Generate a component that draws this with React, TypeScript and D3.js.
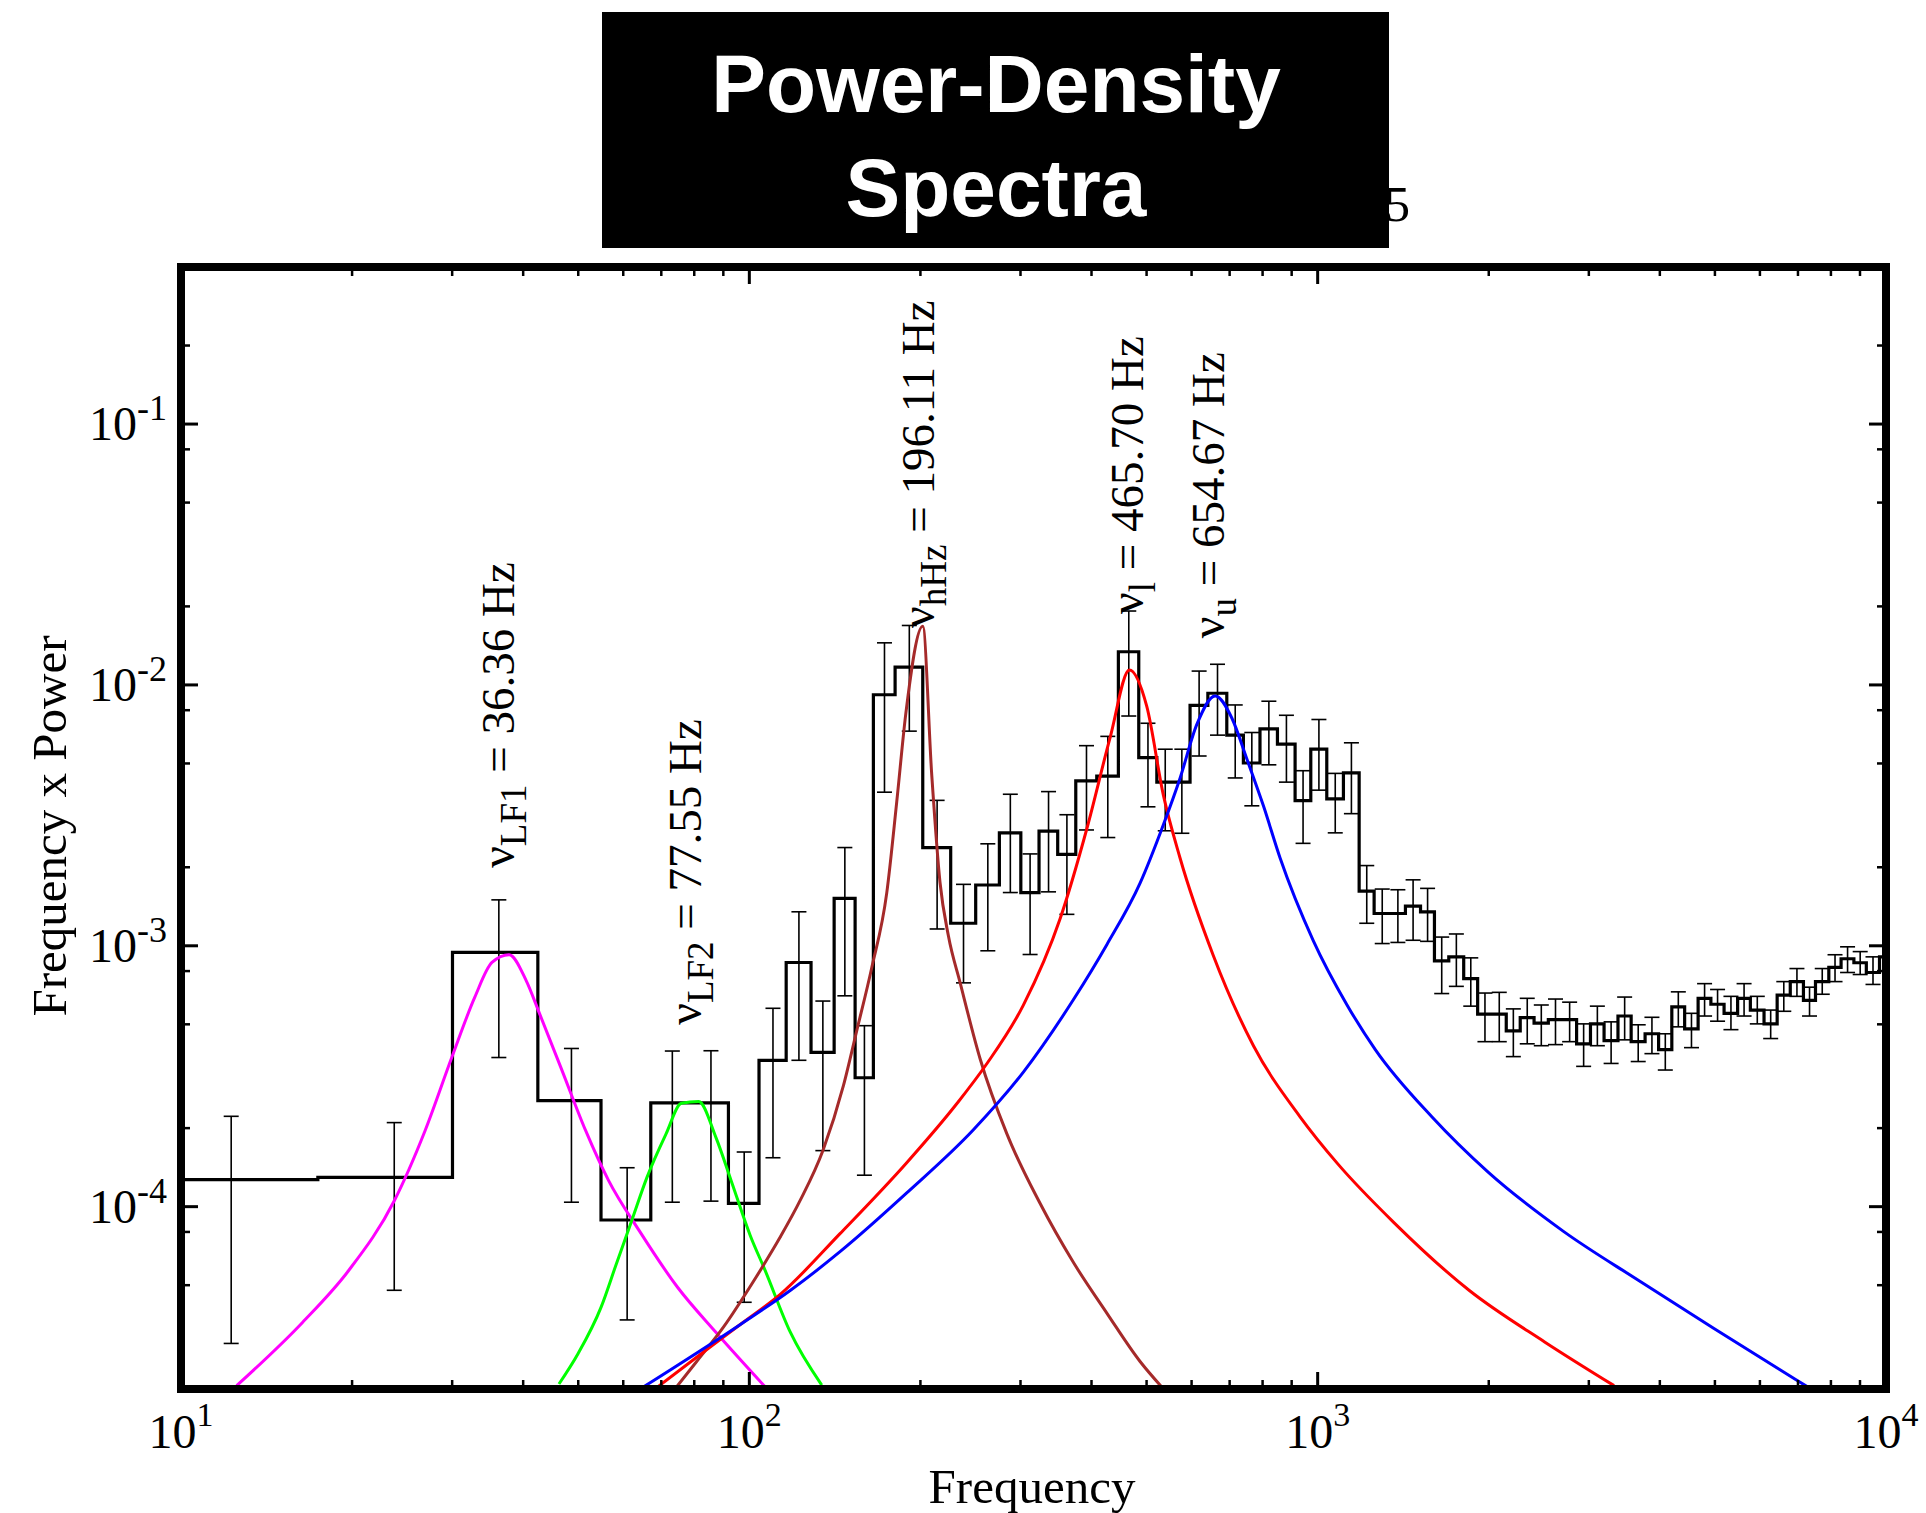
import React from 'react'
import { select, scaleLog, line, curveStepAfter, curveMonotoneX } from 'd3'

// histogram bins (Hz edges) and frequency x power per bin
const binEdges = [7.1, 17.41, 30.04, 42.45, 54.83, 67.08, 79.32, 91.88, 104.0, 116.1, 128.4, 141.0, 153.5, 165.3,
    180.5, 201.9, 226.1, 250.2, 275.4, 300.4, 323.4, 348.8, 375.3, 408.6, 446.0, 484.4, 521.2, 557.3, 596.3, 640.9,
    692.0, 740.1, 791.6, 849.6, 912.6, 972.5, 1037.6, 1110, 1183, 1257, 1341, 1427, 1517, 1605, 1701, 1807, 1912,
    2027, 2147, 2272, 2403, 2546, 2696, 2855, 3020, 3191, 3376, 3561, 3768, 3980, 4199, 4423, 4671, 4919, 5189,
    5482, 5772, 6101, 6434, 6785, 7157, 7515, 7932, 8336, 8780, 9234, 9740, 10250]

const binPower = [1.27e-4, 1.295e-4, 9.43e-4, 2.55e-4, 8.89e-5, 2.50e-4, 2.50e-4, 1.03e-4, 3.64e-4, 8.63e-4,
    3.90e-4, 1.52e-3, 3.12e-4, 9.17e-3, 1.17e-2, 2.38e-3, 1.22e-3, 1.71e-3, 2.71e-3, 1.60e-3, 2.75e-3, 2.24e-3,
    4.29e-3, 4.47e-3, 1.34e-2, 5.26e-3, 4.24e-3, 4.24e-3, 8.35e-3, 9.29e-3, 6.42e-3, 5.02e-3, 6.78e-3, 5.93e-3,
    3.60e-3, 5.67e-3, 3.66e-3, 4.60e-3, 1.62e-3, 1.33e-3, 1.33e-3, 1.42e-3, 1.35e-3, 8.76e-4, 9.07e-4, 7.49e-4,
    5.47e-4, 5.47e-4, 4.72e-4, 5.30e-4, 5.05e-4, 5.21e-4, 5.21e-4, 4.21e-4, 5.02e-4, 4.33e-4, 5.38e-4, 4.29e-4,
    4.60e-4, 4.00e-4, 5.83e-4, 4.80e-4, 6.29e-4, 5.97e-4, 5.51e-4, 6.29e-4, 5.67e-4, 5.02e-4, 6.47e-4, 7.29e-4,
    6.18e-4, 7.29e-4, 8.26e-4, 8.92e-4, 8.61e-4, 7.90e-4, 9.07e-4]

const errUpper = [2.22e-4, 2.10e-4, 1.50e-3, 4.04e-4, 1.41e-4, 3.95e-4, 3.96e-4, 1.62e-4, 5.76e-4, 1.35e-3,
    6.14e-4, 2.38e-3, 4.94e-4, 1.45e-2, 1.69e-2, 3.61e-3, 1.72e-3, 2.46e-3, 3.81e-3, 2.25e-3, 3.90e-3, 3.18e-3,
    5.85e-3, 6.35e-3, 1.92e-2, 7.13e-3, 5.67e-3, 5.67e-3, 1.13e-2, 1.20e-2, 8.38e-3, 6.57e-3, 8.66e-3, 7.65e-3,
    4.69e-3, 7.37e-3, 4.58e-3, 6.00e-3, 2.03e-3, 1.65e-3, 1.64e-3, 1.79e-3, 1.66e-3, 1.08e-3, 1.11e-3, 8.99e-4,
    6.59e-4, 6.63e-4, 5.73e-4, 6.29e-4, 5.93e-4, 6.25e-4, 6.08e-4, 5.02e-4, 5.87e-4, 5.11e-4, 6.36e-4, 4.98e-4,
    5.32e-4, 4.60e-4, 6.66e-4, 5.51e-4, 7.16e-4, 6.80e-4, 6.40e-4, 7.16e-4, 6.40e-4, 5.67e-4, 7.29e-4, 8.18e-4,
    6.94e-4, 8.18e-4, 9.24e-4, 9.91e-4, 9.50e-4, 9.07e-4, 1.00e-3]

const errLower = [2.99e-5, 4.78e-5, 3.73e-4, 1.04e-4, 3.68e-5, 1.04e-4, 1.05e-4, 4.30e-5, 1.54e-4, 3.64e-4,
    1.64e-4, 6.43e-4, 1.32e-4, 3.88e-3, 6.65e-3, 1.16e-3, 7.21e-4, 9.57e-4, 1.60e-3, 9.26e-4, 1.61e-3, 1.32e-3,
    2.78e-3, 2.60e-3, 7.60e-3, 3.41e-3, 2.76e-3, 2.70e-3, 5.34e-3, 6.42e-3, 4.40e-3, 3.44e-3, 4.94e-3, 4.24e-3,
    2.47e-3, 3.95e-3, 2.71e-3, 3.21e-3, 1.22e-3, 1.02e-3, 1.03e-3, 1.05e-3, 1.04e-3, 6.56e-4, 6.99e-4, 5.87e-4,
    4.29e-4, 4.29e-4, 3.76e-4, 4.21e-4, 4.14e-4, 4.18e-4, 4.29e-4, 3.45e-4, 4.14e-4, 3.54e-4, 4.36e-4, 3.60e-4,
    3.86e-4, 3.34e-4, 4.89e-4, 4.07e-4, 5.38e-4, 5.14e-4, 4.77e-4, 5.38e-4, 5.02e-4, 4.41e-4, 5.61e-4, 6.40e-4,
    5.38e-4, 6.52e-4, 7.29e-4, 7.90e-4, 7.76e-4, 7.11e-4, 8.02e-4]

// lorentzian model curves, [frequency, frequency x power]
const lf1Curve = [[12.53, 2.06e-5], [16.36, 3.60e-5], [19.71, 5.68e-5], [23.73, 1.054e-4], [26.88, 1.955e-4],
    [29.95, 3.73e-4], [32.87, 6.34e-4], [35.25, 8.63e-4], [37.78, 9.24e-4], [40.51, 7.34e-4], [42.78, 5.47e-4],
    [46.59, 3.42e-4], [51.53, 1.955e-4], [56.55, 1.258e-4], [64.01, 8.09e-5], [74.76, 4.91e-5], [87.33, 3.30e-5],
    [106.8, 2.03e-5]]

const lf2Curve = [[46.24, 2.09e-5], [49.95, 2.73e-5], [54.83, 4.11e-5], [58.34, 6.03e-5], [62.09, 8.84e-5],
    [66.05, 1.295e-4], [71.36, 1.90e-4], [75.93, 2.49e-4], [81.44, 2.53e-4], [87.33, 1.843e-4], [92.90, 1.258e-4],
    [100.4, 7.74e-5], [106.6, 5.70e-5], [118.0, 3.31e-5], [134.1, 2.07e-5]]

const hHzCurve = [[72.81, 1.915e-5], [80.78, 2.55e-5], [90.03, 3.45e-5], [101.9, 5.21e-5], [113.2, 7.61e-5],
    [122.8, 1.054e-4], [134.9, 1.654e-4], [146.4, 2.91e-4], [154.5, 4.72e-4], [164.2, 8.24e-4], [174.5, 1.596e-3],
    [181.7, 3.56e-3], [188.5, 7.76e-3], [201.9, 1.679e-2], [209.4, 4.51e-3], [216.5, 1.752e-3], [224.0, 1.092e-3],
    [234.9, 7.22e-4], [254.7, 3.69e-4], [283.8, 1.905e-4], [324.7, 1.03e-4], [371.6, 6.12e-5], [425.6, 3.91e-5],
    [487, 2.55e-5], [531.2, 2.04e-5]]

const lowerCurve = [[66.56, 1.92e-5], [84.63, 2.86e-5], [97.32, 3.59e-5], [113.2, 4.60e-5], [144.4, 7.88e-5],
    [189.2, 1.474e-4], [231.7, 2.48e-4], [261.7, 3.53e-4], [303.5, 5.92e-4], [352.2, 1.269e-3], [392.5, 2.81e-3],
    [431.3, 6.28e-3], [466.4, 1.141e-2], [500.4, 8.27e-3], [535.2, 3.78e-3], [572.6, 2.17e-3], [655.4, 9.16e-4],
    [770.9, 4.14e-4], [931.1, 2.21e-4], [1084, 1.462e-4], [1362, 8.69e-5], [1849, 4.77e-5], [2508, 3.03e-5],
    [3323, 2.06e-5]]

const upperCurve = [[62.36, 1.92e-5], [96.3, 3.53e-5], [118.0, 4.77e-5], [144.4, 6.72e-5], [189.2, 1.129e-4],
    [247.9, 1.972e-4], [303.5, 3.28e-4], [371.6, 6.21e-4], [425.6, 1.01e-3], [487, 1.738e-3], [535.2, 2.91e-3],
    [572.6, 4.39e-3], [612.7, 7.04e-3], [660, 9.07e-3], [706.2, 7.47e-3], [750.4, 5.21e-3], [802.7, 3.44e-3],
    [858.8, 2.17e-3], [982.7, 1.045e-3], [1125, 5.96e-4], [1263, 4.0e-4], [1588, 2.21e-4], [1995, 1.356e-4],
    [2707, 8.04e-5], [3672, 5.21e-5], [4981, 3.41e-5], [6945, 2.17e-5], [7410, 1.99e-5]]

const peakNames = ['LF1', 'LF2', 'hHz', 'l', 'u']
const peakValues = ['36.36', '77.55', '196.11', '465.70', '654.67']

const xMajorTicks = [10, 100, 1000, 10000]
const xTickExponents = ['1', '2', '3', '4']
const yMajorTicks = [1e-4, 1e-3, 1e-2, 1e-1]
const yTickExponents = ['-4', '-3', '-2', '-1']
const yMinorTicks = [5e-5, 8e-5, 2e-4, 5e-4, 8e-4, 2e-3, 5e-3, 8e-3, 2e-2, 5e-2, 8e-2, 2e-1]

const serif = "'Liberation Serif', 'Times New Roman', Times, serif"
const sans = "'Liberation Sans', Arial, Helvetica, sans-serif"

class PowerSpectrum extends React.Component {
    container: SVGSVGElement | null = null

    componentDidMount() {
        this.createChart()
    }
    componentDidUpdate() {
        this.createChart()
    }
    createChart = () => {
        let config = {
            width: 1926,
            height: 1513,
            frame: 8,
            majorTick: 17,
            minorTick: 9,
            capwidth: 15,
            margins: { l: 181, r: 1886, t: 267, b: 1389 },
            // label anchors in data space: [frequency, power]
            labelpos: [[38.5, 1.99e-3], [82.2, 4.98e-4], [211.4, 1.654e-2], [493, 1.87e-2], [684, 1.51e-2]]
        }
        let colors = {
            hist: '#000000',
            lf1: '#ff00ff',
            lf2: '#00ff00',
            hHz: '#a52a2a',
            lower: '#ff0000',
            upper: '#0000ff'
        }
        let m = config.margins

        let svg = select(this.container)
            .attr('width', config.width).attr('height', config.height)

        let xScale = scaleLog().domain([10, 10000]).range([m.l, m.r])
        let yScale = scaleLog().domain([2e-5, 0.4]).range([m.b, m.t])

        svg.selectAll('.bg').data([0]).join('rect').attr('class', 'bg')
            .attr('width', config.width).attr('height', config.height).attr('fill', '#ffffff')

        // title remnant behind the box
        svg.selectAll('.hidden-title').data([0]).join('text').attr('class', 'hidden-title')
            .attr('x', 1385).attr('y', 221)
            .style('font-family', serif).style('font-size', '50px')
            .text('5')

        svg.selectAll('.title-box').data([0]).join('rect').attr('class', 'title-box')
            .attr('x', 602).attr('y', 12).attr('width', 787).attr('height', 236).attr('fill', '#000000')

        svg.selectAll('.title').data(['Power-Density', 'Spectra']).join('text').attr('class', 'title')
            .attr('x', 996).attr('y', (d, i) => i === 0 ? 112 : 216)
            .attr('text-anchor', 'middle')
            .attr('fill', '#ffffff')
            .style('font-family', sans).style('font-size', '82px').style('font-weight', 'bold')
            .text(d => d)

        let defs = svg.selectAll('defs').data([0]).join('defs')
        defs.selectAll('clipPath').data([0]).join('clipPath').attr('id', 'plot-clip')
            .selectAll('rect').data([0]).join('rect')
            .attr('x', m.l).attr('y', m.t).attr('width', m.r - m.l).attr('height', m.b - m.t)

        let g = svg.selectAll('.plot-g').data([0]).join('g')
            .attr('class', 'plot-g')
            .attr('clip-path', 'url(#plot-clip)')

        // step histogram
        let steps = binPower.map((p, i) => [binEdges[i], p])
        steps.push([binEdges[binEdges.length - 1], binPower[binPower.length - 1]])
        let stepLine = line().x(d => xScale(d[0])).y(d => yScale(d[1])).curve(curveStepAfter)
        g.selectAll('.hist').data([steps]).join('path').attr('class', 'hist')
            .attr('d', stepLine)
            .attr('fill', 'none')
            .attr('stroke', colors.hist)
            .attr('stroke-width', 3.2)

        // error bars at bin centres
        let bars = binPower.map((p, i) => ({
            f: (binEdges[i] + binEdges[i + 1]) / 2,
            hi: errUpper[i],
            lo: errLower[i]
        }))
        let errg = g.selectAll('.errbar').data(bars).join('g').attr('class', 'errbar')
            .attr('stroke', colors.hist).attr('stroke-width', 1.6)
        errg.selectAll('.stem').data(d => [d]).join('line').attr('class', 'stem')
            .attr('x1', d => xScale(d.f)).attr('x2', d => xScale(d.f))
            .attr('y1', d => yScale(d.hi)).attr('y2', d => yScale(d.lo))
        errg.selectAll('.cap').data(d => [[d.f, d.hi], [d.f, d.lo]]).join('line').attr('class', 'cap')
            .attr('x1', d => xScale(d[0]) - config.capwidth / 2).attr('x2', d => xScale(d[0]) + config.capwidth / 2)
            .attr('y1', d => yScale(d[1])).attr('y2', d => yScale(d[1]))

        // model components
        let curves = [
            { key: 'lf1', pts: lf1Curve, color: colors.lf1 },
            { key: 'lf2', pts: lf2Curve, color: colors.lf2 },
            { key: 'hHz', pts: hHzCurve, color: colors.hHz },
            { key: 'lower', pts: lowerCurve, color: colors.lower },
            { key: 'upper', pts: upperCurve, color: colors.upper }
        ]
        let curveLine = line().x(d => xScale(d[0])).y(d => yScale(d[1])).curve(curveMonotoneX)
        g.selectAll('.model').data(curves, d => d.key).join('path').attr('class', 'model')
            .attr('d', d => curveLine(d.pts))
            .attr('fill', 'none')
            .attr('stroke', d => d.color)
            .attr('stroke-width', 3)

        // peak labels
        let labels = peakNames.map((n, i) => ({ name: n, value: peakValues[i], pos: config.labelpos[i] }))
        let lab = svg.selectAll('.peaklabel').data(labels).join('text').attr('class', 'peaklabel')
            .attr('transform', d => `translate(${xScale(d.pos[0])},${yScale(d.pos[1])}) rotate(-90)`)
            .style('font-family', serif).style('font-size', '47px')
        lab.selectAll('tspan').data(d => [
            { t: 'ν', size: 48, dy: 0 },
            { t: d.name, size: 37, dy: 12 },
            { t: ` = ${d.value} Hz`, size: 47, dy: -12 }
        ]).join('tspan')
            .attr('dy', d => d.dy)
            .style('font-size', d => d.size + 'px')
            .text(d => d.t)

        // frame
        svg.selectAll('.frame').data([0]).join('rect').attr('class', 'frame')
            .attr('x', m.l).attr('y', m.t).attr('width', m.r - m.l).attr('height', m.b - m.t)
            .attr('fill', 'none').attr('stroke', '#000000').attr('stroke-width', config.frame)

        // ticks on all four sides
        let xMinor = xScale.ticks().filter(v => xMajorTicks.indexOf(v) < 0 && v > 10 && v < 10000)
        let xt = [
            ...xMajorTicks.map(v => ({ v, len: config.majorTick, w: 3 })),
            ...xMinor.map(v => ({ v, len: config.minorTick, w: 2.5 }))
        ]
        let yt = [
            ...yMajorTicks.map(v => ({ v, len: config.majorTick, w: 3 })),
            ...yMinorTicks.map(v => ({ v, len: config.minorTick, w: 2.5 }))
        ]
        let tickData = [
            ...xt.map(d => ({ x1: xScale(d.v), x2: xScale(d.v), y1: m.b, y2: m.b - d.len, w: d.w })),
            ...xt.map(d => ({ x1: xScale(d.v), x2: xScale(d.v), y1: m.t, y2: m.t + d.len, w: d.w })),
            ...yt.map(d => ({ x1: m.l, x2: m.l + d.len, y1: yScale(d.v), y2: yScale(d.v), w: d.w })),
            ...yt.map(d => ({ x1: m.r, x2: m.r - d.len, y1: yScale(d.v), y2: yScale(d.v), w: d.w }))
        ]
        svg.selectAll('.tick').data(tickData).join('line').attr('class', 'tick')
            .attr('x1', d => d.x1).attr('x2', d => d.x2).attr('y1', d => d.y1).attr('y2', d => d.y2)
            .attr('stroke', '#000000').attr('stroke-width', d => d.w)

        // tick labels
        let xl = svg.selectAll('.xticklabel').data(xMajorTicks.map((v, i) => ({ v, e: xTickExponents[i] })))
            .join('text').attr('class', 'xticklabel')
            .attr('x', d => xScale(d.v)).attr('y', 1448)
            .attr('text-anchor', 'middle')
            .style('font-family', serif).style('font-size', '48px')
        xl.selectAll('tspan').data(d => [{ t: '10', size: 48, dy: 0 }, { t: d.e, size: 34, dy: -22 }]).join('tspan')
            .attr('dy', d => d.dy).style('font-size', d => d.size + 'px').text(d => d.t)

        let yl = svg.selectAll('.yticklabel').data(yMajorTicks.map((v, i) => ({ v, e: yTickExponents[i] })))
            .join('text').attr('class', 'yticklabel')
            .attr('x', 167).attr('y', d => yScale(d.v) + 16)
            .attr('text-anchor', 'end')
            .style('font-family', serif).style('font-size', '48px')
        yl.selectAll('tspan').data(d => [{ t: '10', size: 48, dy: 0 }, { t: d.e, size: 36, dy: -20 }]).join('tspan')
            .attr('dy', d => d.dy).style('font-size', d => d.size + 'px').text(d => d.t)

        // axis titles
        svg.selectAll('.xtitle').data([0]).join('text').attr('class', 'xtitle')
            .attr('x', 1032).attr('y', 1503).attr('text-anchor', 'middle')
            .style('font-family', serif).style('font-size', '49px')
            .text('Frequency')
        svg.selectAll('.ytitle').data([0]).join('text').attr('class', 'ytitle')
            .attr('transform', 'translate(66,826) rotate(-90)').attr('text-anchor', 'middle')
            .style('font-family', serif).style('font-size', '49px')
            .text('Frequency x Power')
    }
    render() {
        return <svg ref={el => { this.container = el }}
            style={{ position: 'absolute', left: 0, top: 0, display: 'block' }}></svg>
    }
}

export default function App() {
    return <PowerSpectrum />
}
